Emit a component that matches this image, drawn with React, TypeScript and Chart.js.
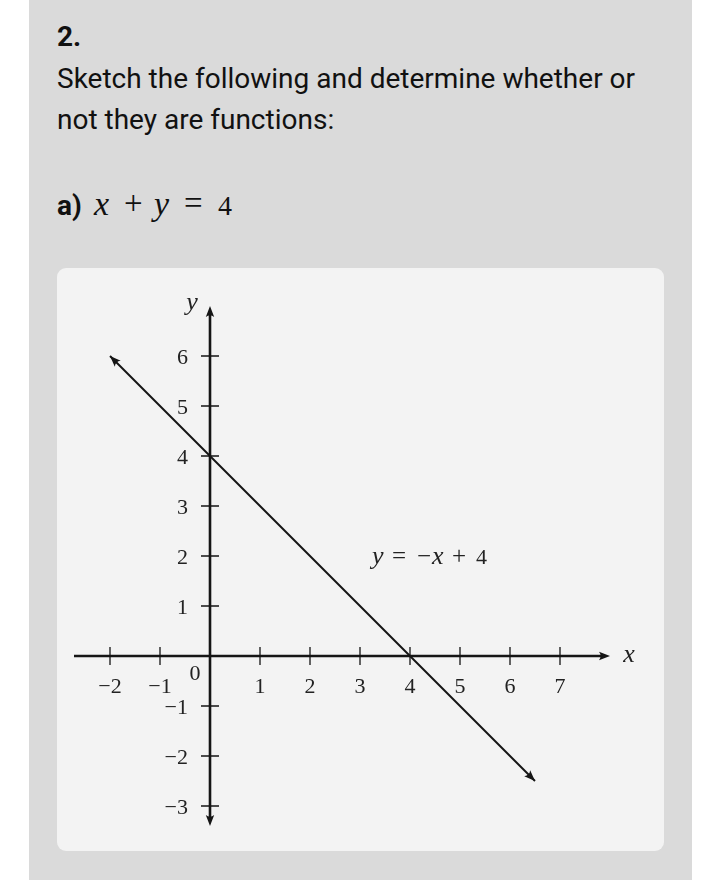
import React, { useEffect, useRef } from "react";
import { Chart, registerables } from "chart.js";

Chart.register(...registerables);

// ---- data ----
const lineX = [-2, 6.5];
const lineY = [6, -2.5];
const xTicks = [-2, -1, 1, 2, 3, 4, 5, 6, 7];
const yTicks = [-3, -2, -1, 1, 2, 3, 4, 5, 6];
const xTickLabels = ["−2", "−1", "1", "2", "3", "4", "5", "6", "7"];
const yTickLabels = ["−3", "−2", "−1", "1", "2", "3", "4", "5", "6"];
const xAxisExtent = [-2.72, 8];
const yAxisExtent = [-3.4, 7];
const lineLabelAnchor = [3.26, 1.85];
// glyph, kind (i = italic letter, o = operator, d = digit), left offset (px) from anchor
const lineLabelParts: [string, string, number][] = [
  ["y", "i", -1],
  ["=", "o", 19],
  ["−", "o", 44],
  ["x", "i", 59],
  ["+", "o", 79],
  ["4", "d", 103],
];

const INK = "#151515";
const SERIF = '"Liberation Serif", "DejaVu Serif", serif';

function arrowHead(ctx: CanvasRenderingContext2D, tx: number, ty: number, ang: number, len = 11, half = 4.2) {
  ctx.save();
  ctx.translate(tx, ty);
  ctx.rotate(ang);
  ctx.beginPath();
  ctx.moveTo(0, 0);
  ctx.lineTo(-len, -half);
  ctx.quadraticCurveTo(-len * 0.7, 0, -len, half);
  ctx.closePath();
  ctx.fillStyle = INK;
  ctx.fill();
  ctx.restore();
}

const axesPlugin = {
  id: "mathAxes",
  beforeDatasetsDraw(chart: any) {
    const { ctx } = chart;
    const xs = chart.scales.x;
    const ys = chart.scales.y;
    const X = (v: number) => xs.getPixelForValue(v);
    const Y = (v: number) => ys.getPixelForValue(v);
    const ox = X(0);
    const oy = Y(0);
    ctx.save();
    ctx.strokeStyle = INK;
    ctx.lineCap = "butt";
    // x axis
    ctx.lineWidth = 2.6;
    ctx.beginPath();
    ctx.moveTo(X(xAxisExtent[0]), oy);
    ctx.lineTo(X(xAxisExtent[1]) - 7, oy);
    ctx.stroke();
    arrowHead(ctx, X(xAxisExtent[1]), oy, 0);
    // y axis
    ctx.beginPath();
    ctx.moveTo(ox, Y(yAxisExtent[0]) - 7);
    ctx.lineTo(ox, Y(yAxisExtent[1]) + 7);
    ctx.stroke();
    arrowHead(ctx, ox, Y(yAxisExtent[1]), -Math.PI / 2);
    arrowHead(ctx, ox, Y(yAxisExtent[0]), Math.PI / 2);
    // ticks
    ctx.lineWidth = 1.3;
    ctx.beginPath();
    xTicks.forEach((t) => {
      ctx.moveTo(X(t), oy - 9);
      ctx.lineTo(X(t), oy + 9);
    });
    yTicks.forEach((t) => {
      ctx.moveTo(ox - 9, Y(t));
      ctx.lineTo(ox + 9, Y(t));
    });
    ctx.stroke();
    // labels
    ctx.fillStyle = "#222";
    ctx.font = `22px ${SERIF}`;
    ctx.textBaseline = "alphabetic";
    ctx.textAlign = "center";
    xTicks.forEach((t, i) => ctx.fillText(xTickLabels[i], X(t), oy + 37));
    ctx.textAlign = "right";
    yTicks.forEach((t, i) => ctx.fillText(yTickLabels[i], ox - 22, Y(t) + 7.5));
    ctx.textAlign = "center";
    ctx.fillText("0", ox - 15, oy + 24);
    ctx.font = `italic 26px ${SERIF}`;
    ctx.fillText("x", X(xAxisExtent[1]) + 19, oy + 6);
    ctx.fillText("y", ox - 18, Y(yAxisExtent[1]) + 4);
    // line label
    const ax = X(lineLabelAnchor[0]);
    const ay = Y(lineLabelAnchor[1]);
    ctx.textAlign = "left";
    lineLabelParts.forEach(([g, kind, off]) => {
      ctx.font = kind === "i" ? `italic 26px ${SERIF}` : kind === "o" ? `25px ${SERIF}` : `22px ${SERIF}`;
      ctx.fillText(g, ax + off, ay);
    });
    ctx.restore();
  },
  afterDatasetsDraw(chart: any) {
    const { ctx } = chart;
    const pts = chart.getDatasetMeta(0).data;
    if (pts.length < 2) return;
    const a = pts[0];
    const b = pts[pts.length - 1];
    const ang = Math.atan2(b.y - a.y, b.x - a.x);
    arrowHead(ctx, a.x, a.y, ang + Math.PI, 11, 4.2);
    arrowHead(ctx, b.x, b.y, ang, 11, 4.2);
  },
};

function Graph() {
  const ref = useRef<HTMLCanvasElement>(null);
  useEffect(() => {
    if (!ref.current) return;
    const chart = new Chart(ref.current, {
      type: "scatter",
      data: {
        datasets: [
          {
            data: lineX.map((x, i) => ({ x, y: lineY[i] })),
            showLine: true,
            borderColor: INK,
            borderWidth: 2,
            pointRadius: 0,
            clip: false as any,
          },
        ],
      },
      options: {
        animation: false,
        responsive: false,
        maintainAspectRatio: false,
        layout: { padding: { left: 3, right: 4, top: 13, bottom: 20 } },
        plugins: { legend: { display: false }, tooltip: { enabled: false } },
        scales: {
          x: { type: "linear", min: -3, max: 9, display: false },
          y: { type: "linear", min: -3.5, max: 7.5, display: false },
        },
      },
      plugins: [axesPlugin],
    });
    return () => chart.destroy();
  }, []);
  return <canvas ref={ref} width={607} height={583} style={{ display: "block" }} />;
}

const ROBOTO = 'Roboto, "Noto Sans", sans-serif';

export default function App() {
  const mathSpan = (g: string, kind: string, left: number) => {
    const size = kind === "i" ? 34 : kind === "o" ? 33 : 28;
    return (
      <span
        key={left}
        style={{
          position: "absolute",
          left,
          top: -0.3375 * (size - 28),
          fontFamily: SERIF,
          fontStyle: kind === "i" ? "italic" : "normal",
          fontSize: size,
          lineHeight: "41px",
          color: "#111",
        }}
      >
        {g}
      </span>
    );
  };
  return (
    <div style={{ position: "absolute", left: 0, top: 0, width: 720, height: 880, background: "#fff", overflow: "hidden" }}>
      <div style={{ position: "absolute", left: 29, top: 0, width: 663, height: 880, background: "#dadada" }} />
      <div style={{ position: "absolute", left: 57, top: 16, fontFamily: ROBOTO, fontWeight: 700, fontSize: 28, lineHeight: "41px", color: "#111" }}>
        2.
      </div>
      <div style={{ position: "absolute", left: 57, top: 58, fontFamily: ROBOTO, fontSize: 28, lineHeight: "41px", color: "#111", whiteSpace: "nowrap" }}>
        Sketch the following and determine whether or
        <br />
        not they are functions:
      </div>
      <div style={{ position: "absolute", left: 57, top: 185, fontFamily: ROBOTO, fontWeight: 700, fontSize: 28, lineHeight: "41px", color: "#111" }}>
        a)
      </div>
      <div style={{ position: "absolute", left: 95, top: 185, height: 41, width: 200 }}>
        {mathSpan("x", "i", -1)}
        {mathSpan("+", "o", 29)}
        {mathSpan("y", "i", 59)}
        {mathSpan("=", "o", 89)}
        {mathSpan("4", "d", 123)}
      </div>
      <div style={{ position: "absolute", left: 57, top: 268, width: 607, height: 583, background: "#f3f3f3", borderRadius: 9, overflow: "hidden" }}>
        <Graph />
      </div>
    </div>
  );
}
